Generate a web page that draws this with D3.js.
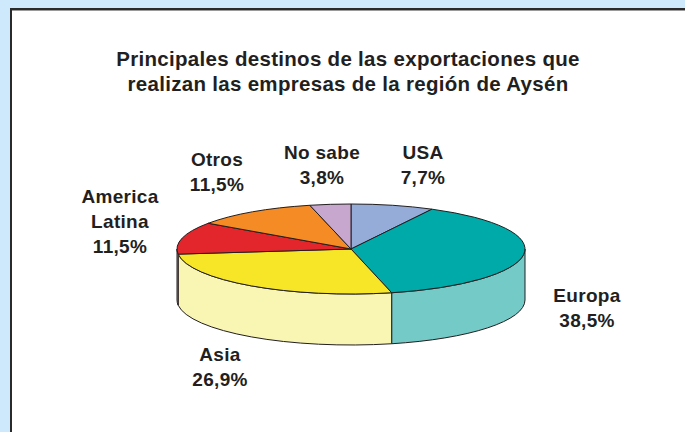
<!DOCTYPE html>
<html>
<head>
<meta charset="utf-8">
<script src="https://cdn.jsdelivr.net/npm/d3@7"></script>
<style>
  html, body { margin: 0; padding: 0; background: #cde9fb; }
  svg { display: block; font-family: "Liberation Sans", Arial, sans-serif; }
</style>
</head>
<body>
<svg id="chart" width="685" height="432"></svg>
<script>
// Data
const categories = ['USA', 'Europa', 'Asia', 'America Latina', 'Otros', 'No sabe'];
const shares = [7.7, 38.5, 26.9, 11.5, 11.5, 3.8];
const labelLines = [['USA', '7,7%'], ['Europa', '38,5%'], ['Asia', '26,9%'],
                    ['America', 'Latina', '11,5%'], ['Otros', '11,5%'], ['No sabe', '3,8%']];
const topColors = ['#95acd8', '#00aaa8', '#f7e627', '#e3262b', '#f58b24', '#c8a7cf'];
const sideColors = ['#b8c8e8', '#74cac7', '#f9f5b2', '#ee8f8f', '#f9c08a', '#e0cce5'];
const titleLines = ['Principales destinos de las exportaciones que',
                    'realizan las empresas de la región de Aysén'];

const svg = d3.select('#chart');
const ink = '#231f20';

// white panel with dark top/left border
svg.append('rect')
  .attr('x', 11).attr('y', 9)
  .attr('width', 700).attr('height', 450)
  .attr('fill', '#fff')
  .attr('stroke', '#2a2a2a')
  .attr('stroke-width', 2);
svg.append('line')
  .attr('x1', 12).attr('x2', 700).attr('y1', 10.5).attr('y2', 10.5)
  .attr('stroke', '#9a9a9a').attr('stroke-width', 1);

// title
svg.append('text')
  .attr('text-anchor', 'middle')
  .attr('font-weight', 'bold')
  .attr('font-size', 20.5)
  .attr('letter-spacing', 0.3)
  .attr('fill', ink)
  .selectAll('tspan')
  .data(titleLines)
  .enter()
  .append('tspan')
  .attr('x', 348)
  .attr('y', (d, i) => 66 + i * 25)
  .text(d => d);

// 3D pie geometry
const cx = 351, cy = 249, rx = 174, ry = 45, depth = 51;
const pie = d3.pie().sort(null).value(d => d)(shares);
const pt = (a, dy = 0) => [cx + rx * Math.sin(a), cy - ry * Math.cos(a) + dy];

const g = svg.append('g');

// front side walls (visible between 90° and 270°)
pie.forEach((s, i) => {
  const a0 = Math.max(s.startAngle, Math.PI / 2);
  const a1 = Math.min(s.endAngle, Math.PI * 1.5);
  if (a1 <= a0) return;
  const p0 = pt(a0), p1 = pt(a1), q0 = pt(a0, depth), q1 = pt(a1, depth);
  const path = `M${p0}A${rx},${ry} 0 0 1 ${p1}L${q1}A${rx},${ry} 0 0 0 ${q0}Z`;
  g.append('path')
    .attr('d', path)
    .attr('fill', sideColors[i])
    .attr('stroke', ink)
    .attr('stroke-width', 1)
    .attr('stroke-linejoin', 'round');
});

// top faces
pie.forEach((s, i) => {
  const p0 = pt(s.startAngle), p1 = pt(s.endAngle);
  const large = s.endAngle - s.startAngle > Math.PI ? 1 : 0;
  const path = `M${cx},${cy}L${p0}A${rx},${ry} 0 ${large} 1 ${p1}Z`;
  g.append('path')
    .attr('d', path)
    .attr('fill', topColors[i])
    .attr('stroke', ink)
    .attr('stroke-width', 1)
    .attr('stroke-linejoin', 'round');
});

// labels
const labelPos = [[423, 159], [587, 302], [220, 361], [120, 203], [217, 166], [322, 159]];
labelLines.forEach((lines, i) => {
  svg.append('text')
    .attr('text-anchor', 'middle')
    .attr('font-weight', 'bold')
    .attr('font-size', 19)
    .attr('letter-spacing', 0.3)
    .attr('fill', ink)
    .selectAll('tspan')
    .data(lines)
    .enter()
    .append('tspan')
    .attr('x', labelPos[i][0])
    .attr('y', (d, j) => labelPos[i][1] + j * 25)
    .text(d => d);
});
</script>
</body>
</html>
